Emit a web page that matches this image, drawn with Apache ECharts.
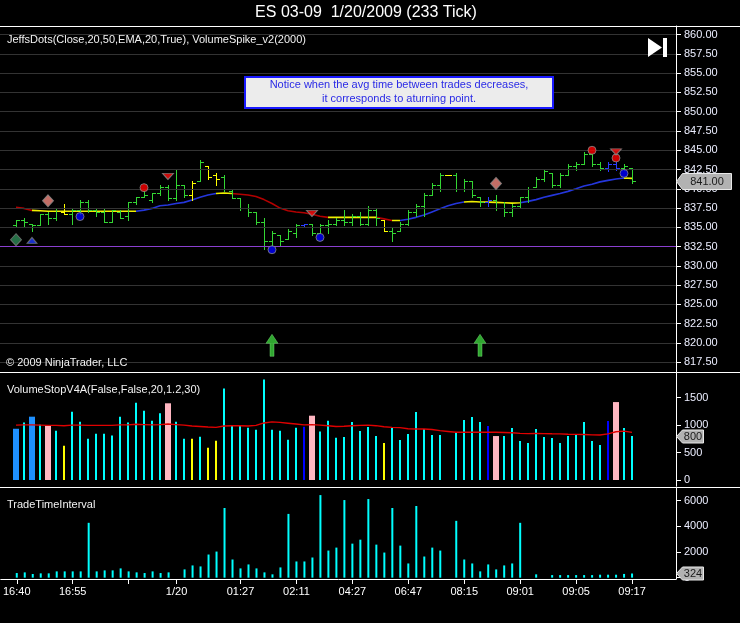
<!DOCTYPE html>
<html><head><meta charset="utf-8">
<script src="https://cdn.jsdelivr.net/npm/echarts@6/dist/echarts.min.js"></script>
<style>html,body{margin:0;padding:0;background:#000}#c{width:740px;height:623px}</style>
</head><body><div id="c"></div>
<script>
const FONT = "'Liberation Sans', Arial, sans-serif";

// ---- price bars (233 tick) ----
const openP  = [835.25,836,835.5,835.25,836.75,836.25,837,836.75,837.25,838.25,
                837.25,837,835.75,837,836.5,838.25,839,838.5,839.5,840.25,
                838.75,840.5,839.25,841,843,841.75,841.5,839.75,838.75,837.5,
                837,835.75,833.25,834,833.5,834.25,835.25,835.5,834.25,835.25,
                835.5,836,835.75,836.5,835.5,837.25,836,834.5,834.5,835.5,
                837,837.75,839.25,840.5,841.75,841.75,840,841,839,838.25,
                838.5,837.5,837,837.75,839,840.25,841.25,842,840.5,841.75,
                843,843.25,844.5,843.25,842.75,843.25,842.75,842.75];
const highP  = [836,836.25,835.5,836.75,837,837.5,838,837.5,838.5,838.5,
                837.5,837.5,837.25,837.25,838.25,839,839.75,839.5,840.5,840.5,
                842.5,840.5,841,843.75,843,842,841.75,840,838.75,838,
                837,836.25,834.5,834,834.75,835.5,835.5,835.5,835.5,836,
                836.25,837.25,836.75,837,837.75,837.5,836,835,835.75,837.25,
                838,839.5,840.75,842,841.75,842,841.25,841,839,839,
                839.25,838.25,838,839,840.25,841.5,842.5,842,842,843.25,
                843.5,844.75,844.5,843.5,843.5,843.5,843.25,842.75];
const lowP   = [835,835,834.5,835.25,835.5,836,836.75,835.5,836.75,837,
                836.5,835.75,835.75,836.25,836,838,839,838.25,839.25,838.5,
                838.5,839,838.5,841,841.25,840.5,839.75,838.75,837.25,836.5,
                835.5,832.25,832.75,832.75,833.5,833.75,835,834,834.25,834.25,
                835.25,835.25,835.25,835.25,835.25,835.25,834.5,833.25,834.5,835.25,
                836.5,836.5,839.25,839.75,841.75,839.75,839.75,839,837.75,837.75,
                837.25,836.5,836.5,837.5,838.25,840.25,841,840.25,840.25,841.75,
                842.5,843.25,843,842.5,842.25,842.5,842.5,840.75];
const closeP = [836,835.75,835.25,836.75,836.25,837.5,836.75,837.25,838.25,837.25,
                837,835.75,837.25,836.25,838.25,839,839.25,839.5,840.25,838.75,
                840.5,839.25,840.75,843.5,841.5,841.25,840,838.75,837.5,837,
                835.75,833.25,834.25,833.25,834.5,835.25,835.5,834.25,835.25,835.5,
                836,835.75,836.5,835.5,837.25,836.25,834.5,834.25,835.5,837,
                837.75,839.25,840.5,841.75,841.75,840,841,839.25,838.25,838.5,
                837.5,837,837.75,839,840,841.25,842.25,840.5,841.75,843,
                843.25,844.5,843.25,842.75,843.25,842.75,843,841];
// bar state: g = normal, y = neutral, b = spike
const barState = ['g','g','g','g','g','g','y','g','g','g',
                  'g','g','g','g','g','g','g','g','g','g',
                  'g','g','y','g','y','y','g','g','g','g',
                  'g','g','g','g','g','g','b','g','g','g',
                  'g','g','g','g','g','g','y','g','g','g',
                  'g','g','g','g','y','g','g','g','g','b',
                  'g','g','g','g','g','g','g','g','g','g',
                  'g','g','g','g','b','b','g','g'];
const maLine = [837.6,837.46,837.2,837.15,837.1,837.1,837.1,837.1,837.1,837.1,
                837.1,837.1,837.1,837.1,837.1,837.1,837.24,837.46,837.8,837.9,
                838.1,838.24,838.54,838.9,839.2,839.4,839.45,839.4,839.3,839.2,
                839.0,838.6,838.1,837.5,837.15,837.0,836.9,836.7,836.45,836.3,
                836.3,836.3,836.3,836.3,836.3,836.3,836.1,835.9,835.9,836.05,
                836.3,836.6,837.0,837.4,837.8,838.1,838.3,838.35,838.3,838.28,
                838.24,838.2,838.15,838.2,838.37,838.6,838.9,839.15,839.4,839.67,
                840.0,840.36,840.6,840.9,841.1,841.27,841.4,841.35];

// JeffsDots markers [barIndex, price]
const greenDiamond  = [[0, 833.4]];
const blueTriUp     = [[2, 833.3]];
const salmonDiamond = [[4, 838.45], [60, 840.7]];
const blueDots      = [[8, 836.4], [32, 832.1], [38, 833.7], [76, 842.0]];
const redDots       = [[16, 840.15], [72, 845.0], [75, 844.0]];
const redTriDown    = [[19, 841.6], [37, 836.8], [75, 844.8]];
const upArrows      = [[32, 819.7], [58, 819.7]];
const hLineLevel    = 832.55;

// ---- volume ----
const volume = [934,1050,1154,1007,989,897,623,1245,1062,751,
                842,842,812,1154,1050,1410,1264,1081,1215,1398,
                1062,751,751,788,586,714,1667,995,995,952,
                916,1832,916,897,733,952,971,1172,885,1081,
                770,783,1056,892,965,801,674,965,728,838,
                1238,929,819,819,null,874,1093,1147,1056,983,
                801,801,947,710,674,929,783,765,674,801,
                838,1056,710,637,1074,1420,947,800];
// c = normal, d = high (blue), p = stop (pink), y = low, b = spike
const volState = ['d','c','d','c','p','c','y','c','c','c',
                  'c','c','c','c','c','c','c','c','c','p',
                  'c','c','y','c','y','y','c','c','c','c',
                  'c','c','c','c','c','c','b','p','c','c',
                  'c','c','c','c','c','c','y','c','c','c',
                  'c','c','c','c','c','c','c','c','c','b',
                  'p','c','c','c','c','c','c','c','c','c',
                  'c','c','c','c','b','p','c','c'];
const volAvg = [1000,1005,1005,1000,995,995,990,1000,1000,995,
                995,995,995,1005,1005,1015,1010,1005,1010,1020,
                1010,1000,985,975,965,960,985,990,990,985,
                995,1040,1060,1050,1035,1020,1005,1010,1000,990,
                975,980,990,995,1000,990,970,960,955,935,
                930,930,920,900,885,870,870,870,870,870,
                870,865,860,850,845,848,845,842,840,835,
                832,828,822,820,840,880,890,868];

// ---- trade time interval ----
const tradeTime = [360,412,283,335,335,489,489,489,489,4275,
                   489,567,567,721,489,412,360,489,360,412,
                   null,644,953,876,1803,2034,5433,1416,721,1030,
                   721,412,258,798,4970,1262,1262,1571,6438,2112,
                   2343,6051,2652,2961,6129,2575,1957,5433,2498,1107,
                   5588,1648,2343,2112,null,4429,1416,1107,489,1030,
                   644,953,1107,4275,null,258,null,200,200,200,
                   200,200,200,230,230,230,290,324];

// ---- axis ticks ----
const timeTickIdx    = [0,7,14,20,28,35,42,49,56,63,70,77];
const timeTickLabels = ['16:40','16:55','','1/20','01:27','02:11','04:27','06:47','08:15','09:01','09:05','09:17'];
const priceTicks = [817.5,820,822.5,825,827.5,830,832.5,835,837.5,840,842.5,845,847.5,850,852.5,855,857.5,860];
const volTicks = [0,500,1000,1500];
const ttiTicks = [0,2000,4000,6000];

const X_MIN = -2, X_MAX = 82.5;
const N = closeP.length;

const priceColor = {g:'#33d633', y:'#ffff00', b:'#2a3cff'};
const volColor = {c:'#00ffff', d:'#1e90ff', p:'#ffb6c1', y:'#ffff00', b:'#0000ff'};

const ohlcData = closeP.map((c,i)=>[i, openP[i], highP[i], lowP[i], c]);
const maData = maLine.map((v,i)=>[i,v]);
const volData = []; volume.forEach((v,i)=>{ if(v!=null) volData.push([i,v]); });
const volAvgData = volAvg.map((v,i)=>[i,v]);
const ttiData = []; tradeTime.forEach((v,i)=>{ if(v!=null) ttiData.push([i,v]); });

// MA colour pieces by slope
const maPieces = [];
for (let i=0;i<N;i++){
  const d = (i<N-1) ? maLine[i+1]-maLine[i] : 0;
  const col = d>0.06 ? '#2436dc' : (d<-0.06 ? '#b30000' : '#f0f000');
  maPieces.push(i<N-1 ? {gte:i, lt:i+1, color:col} : {gte:i, lte:X_MAX, color:col});
}

// last-value tag on the right axis
function tagSeries(axisIdx, value, text, w, h){
  return {
    type:'custom', xAxisIndex:axisIdx, yAxisIndex:axisIdx, z:20, silent:true, clip:false,
    data:[[X_MAX, value]], encode:{x:0, y:1},
    renderItem:(p, api)=>{
      const pt = api.coord([api.value(0), api.value(1)]);
      const x0 = Math.round(pt[0]) + 0.5, yc = Math.round(pt[1]) + 0.5, hh = h/2;
      return {type:'group', children:[
        {type:'polygon', shape:{points:[[x0,yc],[x0+6,yc-hh],[x0+w,yc-hh],[x0+w,yc+hh],[x0+6,yc+hh]]},
          style:{fill:'#b2b2b2', stroke:'#e8e8e8', lineWidth:1}},
        {type:'text', x:x0+6+(w-6)/2, y:yc+0.5,
          style:{text:text, fill:'#1a1a1a', fontSize:11, fontFamily:FONT, align:'center', verticalAlign:'middle'}}
      ]};
    }
  };
}

const chart = echarts.init(document.getElementById('c'), null, {renderer:'canvas'});

const yLabel = {color:'#eceeff', fontSize:11, fontFamily:FONT, margin:8};
const yLine = {show:true, onZero:false, lineStyle:{color:'#ffffff', width:1}};
const option = {
  backgroundColor:'#000',
  animation:false,
  grid:[
    {left:0, top:26, width:676, height:346},
    {left:0, top:372, width:676, height:114},
    {left:0, top:487, width:676, height:92}
  ],
  xAxis:[
    {type:'value', gridIndex:0, min:X_MIN, max:X_MAX, show:false},
    {type:'value', gridIndex:1, min:X_MIN, max:X_MAX, show:false},
    {type:'value', gridIndex:2, min:X_MIN, max:X_MAX,
      axisLine:{show:true, onZero:false, lineStyle:{color:'#ffffff', width:1}},
      axisTick:{show:true, customValues:timeTickIdx, length:5, lineStyle:{color:'#ffffff'}},
      axisLabel:{show:true, customValues:timeTickIdx, color:'#ffffff', fontSize:11, fontFamily:FONT, margin:7,
        formatter:(v)=>{const k=timeTickIdx.indexOf(Math.round(v)); return k>=0?timeTickLabels[k]:'';}},
      splitLine:{show:false}}
  ],
  yAxis:[
    {type:'value', gridIndex:0, position:'right', min:816.24, max:861.12,
      axisLine:yLine,
      axisTick:{show:true, customValues:priceTicks, length:5, lineStyle:{color:'#ffffff'}},
      axisLabel:Object.assign({customValues:priceTicks, formatter:(v)=>v.toFixed(2)}, yLabel),
      splitLine:{show:false}},
    {type:'value', gridIndex:1, position:'right', min:-109, max:1968,
      axisLine:yLine,
      axisTick:{show:true, customValues:volTicks, length:5, lineStyle:{color:'#ffffff'}},
      axisLabel:Object.assign({customValues:volTicks, formatter:(v)=>String(v)}, yLabel),
      splitLine:{show:false}},
    {type:'value', gridIndex:2, position:'right', min:-105, max:7068,
      axisLine:yLine,
      axisTick:{show:true, customValues:ttiTicks, length:5, lineStyle:{color:'#ffffff'}},
      axisLabel:Object.assign({customValues:ttiTicks, formatter:(v)=>String(v)}, yLabel),
      splitLine:{show:false}}
  ],
  visualMap:[{type:'piecewise', show:false, seriesIndex:2, dimension:0, pieces:maPieces}],
  series:[
    { // 0: gridlines
      type:'line', xAxisIndex:0, yAxisIndex:0, data:[], z:1, silent:true,
      markLine:{silent:true, symbol:'none', label:{show:false}, animation:false,
        data: priceTicks.map(v=>({yAxis:v, lineStyle:{color:'#333333', width:1, type:'solid'}}))
          .concat([{yAxis:hLineLevel, lineStyle:{color:'#8a3fd0', width:1, type:'solid'}}])}
    },
    { // 1: OHLC bars
      type:'custom', xAxisIndex:0, yAxisIndex:0, z:3, data:ohlcData,
      encode:{x:0, y:[1,2,3,4]},
      renderItem:(params, api)=>{
        const i = api.value(0);
        const col = priceColor[barState[i]];
        const ph = api.coord([i, api.value(2)]), pl = api.coord([i, api.value(3)]);
        const po = api.coord([i, api.value(1)]), pc = api.coord([i, api.value(4)]);
        const X = Math.round(ph[0])+0.5;
        const yo = Math.round(po[1])+0.5, yc = Math.round(pc[1])+0.5;
        const st = {stroke:col, lineWidth:1};
        return {type:'group', children:[
          {type:'line', shape:{x1:X, y1:Math.round(ph[1]), x2:X, y2:Math.round(pl[1])+1}, style:st},
          {type:'line', shape:{x1:X-3.5, y1:yo, x2:X, y2:yo}, style:st},
          {type:'line', shape:{x1:X, y1:yc, x2:X+3.5, y2:yc}, style:st}
        ]};
      }
    },
    { // 2: MA line
      type:'line', xAxisIndex:0, yAxisIndex:0, z:2, data:maData, showSymbol:false,
      lineStyle:{width:1.6}, silent:true
    },
    {type:'scatter', xAxisIndex:0, yAxisIndex:0, z:5, data:greenDiamond, symbol:'diamond', symbolSize:[11,12],
      itemStyle:{color:'#2e8b57', borderColor:'#7a7a7a', borderWidth:1}},
    {type:'scatter', xAxisIndex:0, yAxisIndex:0, z:5, data:blueTriUp, symbol:'triangle', symbolSize:[10,6],
      itemStyle:{color:'#1e3cff', borderColor:'#7a7a7a', borderWidth:1}},
    {type:'scatter', xAxisIndex:0, yAxisIndex:0, z:5, data:salmonDiamond, symbol:'diamond', symbolSize:[11,12],
      itemStyle:{color:'#f48a80', borderColor:'#8a8a8a', borderWidth:1}},
    {type:'scatter', xAxisIndex:0, yAxisIndex:0, z:5, data:blueDots, symbol:'circle', symbolSize:8,
      itemStyle:{color:'#0000ff', borderColor:'#8a8a8a', borderWidth:1}},
    {type:'scatter', xAxisIndex:0, yAxisIndex:0, z:5, data:redDots, symbol:'circle', symbolSize:8,
      itemStyle:{color:'#ff0000', borderColor:'#8a8a8a', borderWidth:1}},
    {type:'scatter', xAxisIndex:0, yAxisIndex:0, z:5, data:redTriDown, symbol:'triangle', symbolRotate:180, symbolSize:[11,6],
      itemStyle:{color:'#ff1010', borderColor:'#8a8a8a', borderWidth:1}},
    {type:'scatter', xAxisIndex:0, yAxisIndex:0, z:5, data:upArrows,
      symbol:'path://M6,0 L12,9 L8,9 L8,22 L4,22 L4,9 L0,9 Z', symbolSize:[12,22],
      itemStyle:{color:'#3ccf3c', borderColor:'#7fe87f', borderWidth:0.5}},
    { // volume bars
      type:'custom', xAxisIndex:1, yAxisIndex:1, z:2, data:volData, encode:{x:0, y:1},
      renderItem:(params, api)=>{
        const i = api.value(0), v = api.value(1);
        const s = volState[i];
        const w = (s==='d'||s==='p') ? 6 : 2;
        const top = api.coord([i, v]), base = api.coord([i, 0]);
        const X = Math.round(top[0]);
        return {type:'rect', shape:{x:X - w/2, y:top[1], width:w, height:base[1]-top[1]},
                style:{fill:volColor[s]}};
      }
    },
    { // volume average
      type:'line', xAxisIndex:1, yAxisIndex:1, z:3, data:volAvgData, showSymbol:false,
      lineStyle:{color:'#e00000', width:1.4}, silent:true
    },
    { // trade time interval
      type:'bar', xAxisIndex:2, yAxisIndex:2, z:2, data:ttiData, barWidth:2,
      itemStyle:{color:'#00ffff'}, silent:true
    },
    tagSeries(0, closeP[N-1], closeP[N-1].toFixed(2), 55, 16),
    tagSeries(1, volume[N-1], String(volume[N-1]), 27, 13),
    tagSeries(2, tradeTime[N-1], String(tradeTime[N-1]), 27, 13)
  ],
  graphic:[
    {type:'line', z:50, shape:{x1:0,y1:26.5,x2:740,y2:26.5}, style:{stroke:'#ffffff', lineWidth:1}},
    {type:'line', z:50, shape:{x1:0,y1:372.5,x2:740,y2:372.5}, style:{stroke:'#ffffff', lineWidth:1}},
    {type:'line', z:50, shape:{x1:0,y1:487.5,x2:740,y2:487.5}, style:{stroke:'#ffffff', lineWidth:1}},
    {type:'text', z:50, x:366, y:13, style:{text:'ES 03-09  1/20/2009 (233 Tick)', fill:'#ffffff', fontSize:16, fontFamily:FONT, align:'center', verticalAlign:'middle'}},
    {type:'text', z:50, x:7, y:40, style:{text:'JeffsDots(Close,20,50,EMA,20,True), VolumeSpike_v2(2000)', fill:'#f2f2f2', fontSize:11, fontFamily:FONT, align:'left', verticalAlign:'middle'}},
    {type:'text', z:50, x:7, y:390, style:{text:'VolumeStopV4A(False,False,20,1.2,30)', fill:'#f2f2f2', fontSize:11, fontFamily:FONT, align:'left', verticalAlign:'middle'}},
    {type:'text', z:50, x:7, y:505, style:{text:'TradeTimeInterval', fill:'#f2f2f2', fontSize:11, fontFamily:FONT, align:'left', verticalAlign:'middle'}},
    {type:'text', z:50, x:6, y:363, style:{text:'© 2009 NinjaTrader, LLC', fill:'#f2f2f2', fontSize:11, fontFamily:FONT, align:'left', verticalAlign:'middle'}},
    {type:'rect', z:50, shape:{x:245,y:77,width:308,height:31}, style:{fill:'#ececec', stroke:'#1a1aff', lineWidth:2}},
    {type:'text', z:51, x:399, y:85, style:{text:'Notice when the avg time between trades decreases,', fill:'#2a2ae6', fontSize:11, fontFamily:FONT, align:'center', verticalAlign:'middle'}},
    {type:'text', z:51, x:399, y:98.5, style:{text:'it corresponds to aturning point.', fill:'#2a2ae6', fontSize:11, fontFamily:FONT, align:'center', verticalAlign:'middle'}},
    {type:'polygon', z:50, shape:{points:[[648,38],[662,47.5],[648,57]]}, style:{fill:'#ffffff'}},
    {type:'rect', z:50, shape:{x:663,y:38,width:4,height:19}, style:{fill:'#ffffff'}}
  ]
};
chart.setOption(option);
</script>
</body></html>
